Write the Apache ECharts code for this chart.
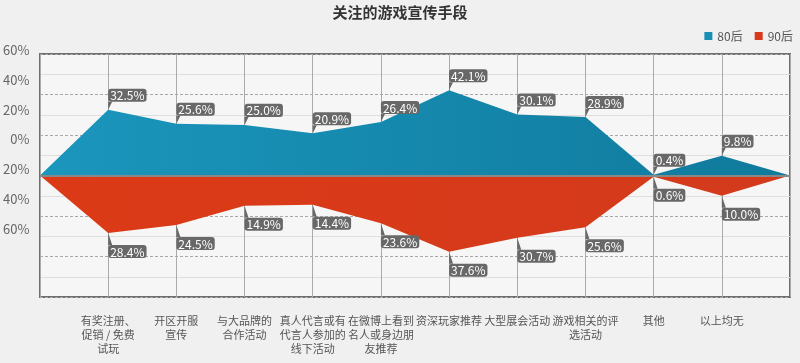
<!DOCTYPE html>
<html><head><meta charset="utf-8">
<script src="https://cdn.jsdelivr.net/npm/echarts@6/dist/echarts.min.js"></script>
<style>html,body{margin:0;padding:0;background:#f0f0f0}#c{width:800px;height:363px}</style>
</head><body><div id="c"></div>
<script>
var categories = ['', '有奖注册、\n促销 / 免费\n试玩', '开区开服\n宣传', '与大品牌的\n合作活动', '真人代言或有\n代言人参加的\n线下活动', '在微博上看到\n名人或身边朋\n友推荐', '资深玩家推荐', '大型展会活动', '游戏相关的评\n选活动', '其他', '以上均无', ''];
var s80 = [0, 32.5, 25.6, 25.0, 20.9, 26.4, 42.1, 30.1, 28.9, 0.4, 9.8, 0];
var s90 = [0, 28.4, 24.5, 14.9, 14.4, 23.6, 37.6, 30.7, 25.6, 0.6, 10.0, 0];
var yTickLabels = ['60%', '40%', '20%', '0%', '20%', '40%', '60%'];
var FONT = 'Noto Sans CJK SC';

function build(vals, sign) {
  return vals.map(function (v, i) {
    var item = { value: sign * v };
    if (i === 0 || i === vals.length - 1) { item.symbol = 'none'; item.label = { show: false }; }
    return item;
  });
}
var labelBase = {
  show: true, color: '#fff', backgroundColor: '#686868', borderRadius: 3,
  padding: [1, 2, 0, 2], fontSize: 12, fontFamily: FONT, align: 'left', distance: 0,
  formatter: function (p) { return Math.abs(p.value).toFixed(1) + '%'; }
};
var chart = echarts.init(document.getElementById('c'));
chart.setOption({
  backgroundColor: '#f0f0f0',
  animation: false,
  textStyle: { fontFamily: FONT },
  title: { text: '关注的游戏宣传手段', left: 'center', top: 0,
    textStyle: { fontSize: 15, fontWeight: 'bold', color: '#333', fontFamily: FONT } },
  legend: { right: 2, top: 25, icon: 'rect', itemWidth: 8, itemHeight: 8, itemGap: 12,
    textStyle: { color: '#555', fontSize: 12, fontFamily: FONT },
    data: [{ name: '80后', itemStyle: { color: '#1a8fb5' } }, { name: '90后', itemStyle: { color: '#d8391a' } }] },
  grid: [
    { left: 40, right: 10, top: 54, bottom: 66, show: true, borderColor: '#6e6e6e', borderWidth: 2, backgroundColor: '#f6f6f6' },
    { left: 40, right: 10, top: 50, height: 179 }
  ],
  xAxis: [
    { type: 'category', data: categories, boundaryGap: false, gridIndex: 0,
      axisLine: { show: false, onZero: false }, axisTick: { show: false },
      splitLine: { show: true, lineStyle: { color: '#aaa', width: 1 } },
      axisLabel: { interval: 0, margin: 17, color: '#555', fontSize: 11, lineHeight: 14, fontFamily: FONT } },
    { type: 'value', gridIndex: 1, show: false }
  ],
  yAxis: [
    { type: 'value', gridIndex: 0, min: -60, max: 60, interval: 20,
      axisLine: { show: false }, axisTick: { show: false }, axisLabel: { show: false },
      splitLine: { show: true, lineStyle: { color: '#a8a8a8', type: [3, 2], width: 1 } },
      minorTick: { show: false, splitNumber: 2 },
      minorSplitLine: { show: true, lineStyle: { color: '#dedede', width: 1 } } },
    { type: 'value', gridIndex: 1, min: 0, max: 6, interval: 1,
      axisLine: { show: false }, axisTick: { show: false }, splitLine: { show: false },
      axisLabel: { color: '#666', fontSize: 13, margin: 11, fontFamily: FONT,
        formatter: function (v) { return yTickLabels[6 - v]; } } }
  ],
  series: [
    { name: '80后', type: 'line', data: build(s80, 1), xAxisIndex: 0, yAxisIndex: 0,
      symbol: 'path://M0,0L4,0L0,8Z', symbolSize: [4, 8], symbolOffset: [2, -4], symbolKeepAspect: false,
      itemStyle: { color: '#686868' },
      lineStyle: { width: 0, color: '#1a8fb5' },
      areaStyle: { opacity: 1, color: new echarts.graphic.LinearGradient(0, 0, 1, 0, [
        { offset: 0, color: '#1b96bd' }, { offset: 1, color: '#0f7a9c' }]) },
      label: Object.assign({}, labelBase, { position: 'top', offset: [-2, 0] }),
      markLine: { silent: true, symbol: 'none', label: { show: false },
        lineStyle: { color: '#888', width: 2, type: 'solid' }, data: [{ yAxis: 0 }] },
      z: 3 },
    { name: '90后', type: 'line', data: build(s90, -1), xAxisIndex: 0, yAxisIndex: 0,
      symbol: 'path://M0,0L0,12L4,12Z', symbolSize: [4, 12], symbolOffset: [2, 6], symbolKeepAspect: false,
      itemStyle: { color: '#686868' },
      lineStyle: { width: 0, color: '#d8391a' },
      areaStyle: { opacity: 1, color: new echarts.graphic.LinearGradient(0, 0, 1, 0, [
        { offset: 0, color: '#dc3a17' }, { offset: 1, color: '#d33a1c' }]) },
      label: Object.assign({}, labelBase, { position: 'bottom', offset: [-2, 0] }),
      z: 3 }
  ]
});
</script></body></html>
